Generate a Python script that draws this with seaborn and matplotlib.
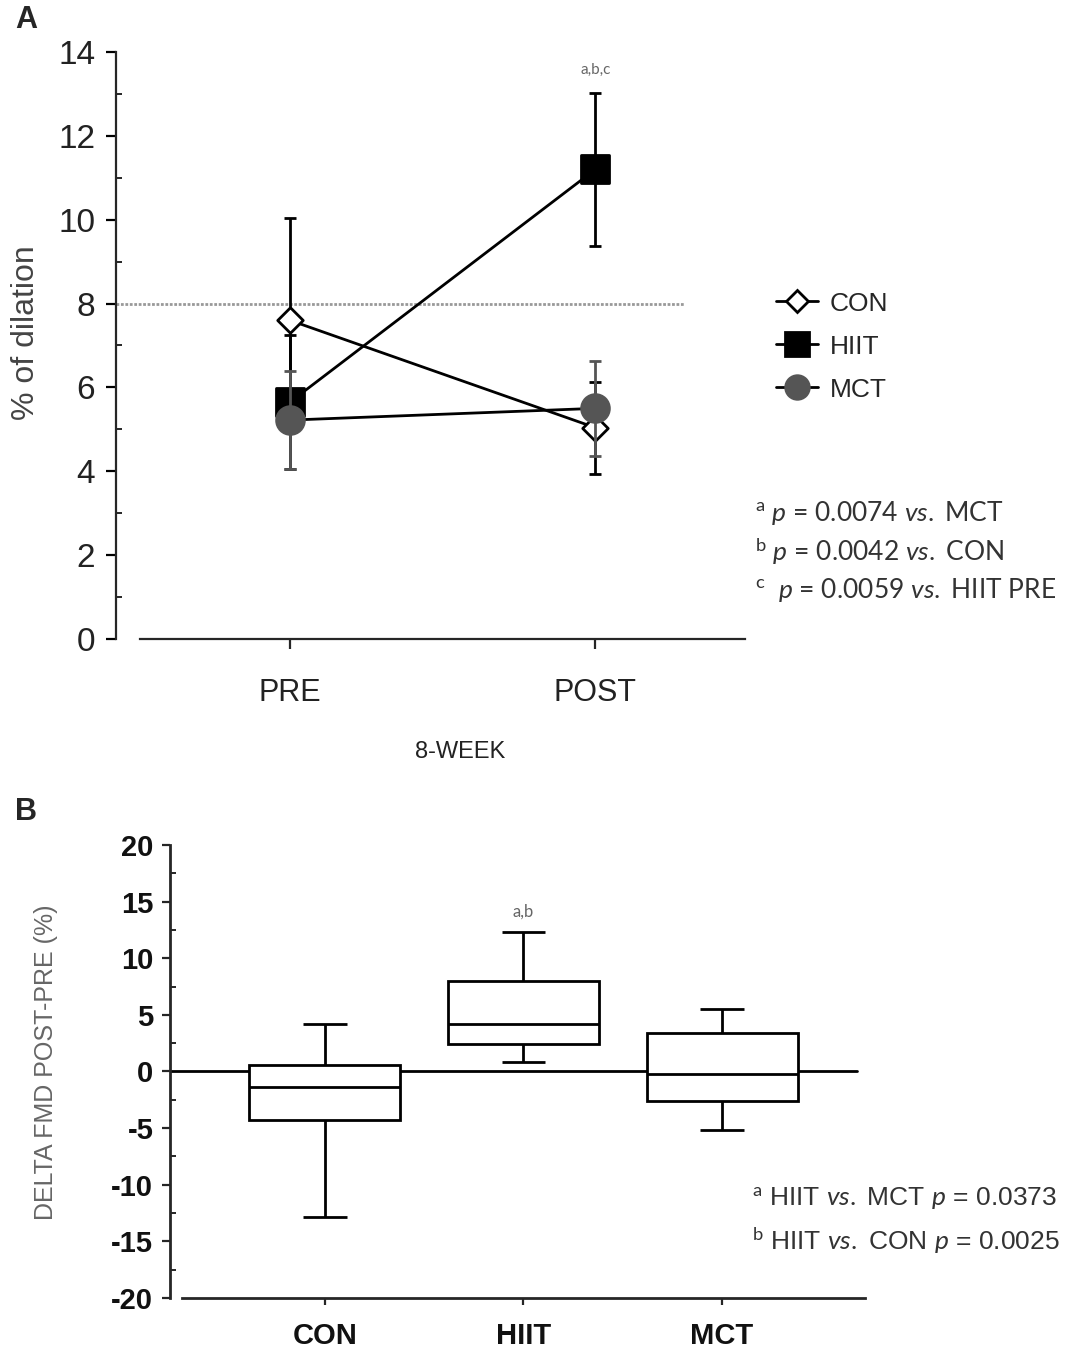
import numpy as np
import pandas as pd
import matplotlib
matplotlib.use("Agg")
import matplotlib.pyplot as plt
from matplotlib.lines import Line2D
from matplotlib.ticker import MultipleLocator
import seaborn as sns

# ---------------- data ----------------
times = ["PRE", "POST"]
groups = ["CON", "HIIT", "MCT"]

con_mean = [7.6, 5.04]
con_sd = [2.43, 1.1]
hiit_mean = [5.65, 11.2]
hiit_sd = [1.6, 1.82]
mct_mean = [5.22, 5.5]
mct_sd = [1.17, 1.14]

# panel B: min, q1, median, q3, max of delta FMD
con_delta = [-12.84, -4.28, -1.4, 0.6, 4.15]
hiit_delta = [0.83, 2.43, 4.19, 8.02, 12.27]
mct_delta = [-5.14, -2.59, -0.22, 3.39, 5.53]

sns.set_style("ticks")
plt.rcParams["font.family"] = ["Liberation Sans", "DejaVu Sans"]
plt.rcParams["axes.unicode_minus"] = False
plt.rcParams["mathtext.fontset"] = "custom"
plt.rcParams["mathtext.rm"] = "Lato"
plt.rcParams["mathtext.it"] = "Lato:italic"

fig = plt.figure(figsize=(10.9, 13.58), dpi=100)

# ================= panel A =================
ax1 = fig.add_axes([0.1064, 0.5295, 0.577, 0.4322])
xpos = [0, 1]
means = {"CON": con_mean, "HIIT": hiit_mean, "MCT": mct_mean}
sds = {"CON": con_sd, "HIIT": hiit_sd, "MCT": mct_sd}
face = {"CON": "white", "HIIT": "black", "MCT": "#555555"}
edge = {"CON": "black", "HIIT": "black", "MCT": "#555555"}
ecol = {"CON": "black", "HIIT": "black", "MCT": "#555555"}
mk = {"CON": "D", "HIIT": "s", "MCT": "o"}
msize = {"CON": 13, "HIIT": 20, "MCT": 20}

rows = []
for g in groups:
    for i, t in enumerate(times):
        rows.append({"group": g, "time": t, "x": xpos[i], "mean": means[g][i], "sd": sds[g][i]})
dfa = pd.DataFrame(rows)

ax1.axhline(8, xmin=0, xmax=(1.29 + 0.57) / (1.49 + 0.57), color="#999999",
            lw=2, ls=(0, (1, 0.6)), zorder=1)

sns.lineplot(data=dfa, x="x", y="mean", units="group", estimator=None,
             color="black", lw=2, legend=False, ax=ax1, zorder=2)

z = 3
for g in groups:
    d = dfa[dfa["group"] == g]
    ax1.errorbar(d["x"], d["mean"], yerr=d["sd"], fmt="none", ecolor=ecol[g],
                 elinewidth=2, capsize=4, capthick=2, zorder=z)
    sns.scatterplot(data=d, x="x", y="mean", marker=mk[g], s=msize[g] ** 2,
                    color=face[g], edgecolor=edge[g], linewidth=2,
                    legend=False, ax=ax1, zorder=z + 1, clip_on=False)
    z += 2

ax1.set_xlim(-0.57, 1.49)
ax1.set_ylim(0, 14)
ax1.set_xticks(xpos)
ax1.set_xticklabels(times)
ax1.yaxis.set_major_locator(MultipleLocator(2))
ax1.yaxis.set_minor_locator(MultipleLocator(1))
ax1.spines["top"].set_visible(False)
ax1.spines["right"].set_visible(False)
ax1.spines["bottom"].set_bounds(-0.49, 1.49)
for s in ["left", "bottom"]:
    ax1.spines[s].set_linewidth(1.6)
ax1.tick_params(axis="y", which="major", length=7, width=1.6, labelsize=24,
                pad=8, colors="black", labelcolor="#222222")
ax1.tick_params(axis="y", which="minor", length=4, width=1.4, direction="in")
ax1.tick_params(axis="x", which="major", length=7, width=1.6, labelsize=22,
                pad=21, labelcolor="#222222")
ax1.set_xlabel("")
ax1.set_ylabel("% of dilation", fontsize=23, color="#444444")
ax1.yaxis.set_label_coords(-0.12, 0.522)

fig.text(460 / 1090, 1 - 752 / 1358, "8-WEEK", fontsize=17, color="#222222",
         ha="center", va="center")
ax1.text(1, 13.57, "a,b,c", fontsize=11, color="#666666", ha="center",
         va="center", family="Lato")

handles = [Line2D([], [], color="black", lw=2, marker=mk[g], markersize=msize[g] * 0.85,
                  markerfacecolor=face[g], markeredgecolor=edge[g], markeredgewidth=2)
           for g in groups]
ax1.legend(handles, groups, loc="upper left", frameon=False, fontsize=19,
           bbox_to_anchor=(765 / 1090, 1 - 281 / 1358), bbox_transform=fig.transFigure,
           handlelength=1.6, handletextpad=0.45, labelspacing=0.72, borderaxespad=0)

foot_a = [r"$^{\mathrm{a}}$ $\mathit{p}$ = 0.0074 $\mathit{vs.}$ MCT",
          r"$^{\mathrm{b}}$ $\mathit{p}$ = 0.0042 $\mathit{vs.}$ CON",
          r"$^{\mathrm{c}}$  $\mathit{p}$ = 0.0059 $\mathit{vs.}$ HIIT PRE"]
for i, s in enumerate(foot_a):
    fig.text(755 / 1090, 1 - (513 + 38.5 * i) / 1358, s, fontsize=19,
             color="#333333", ha="left", va="center", family="Lato")

fig.text(15 / 1090, 1 - 20 / 1358, "A", fontsize=22, weight="bold", ha="left", va="center")

# ================= panel B =================
ax2 = fig.add_axes([0.156, 0.0442, 0.6376, 0.3336])
deltas = {"CON": con_delta, "HIIT": hiit_delta, "MCT": mct_delta}
dfb = pd.DataFrame({
    "group": [g for g in groups for _ in deltas[g]],
    "delta": [v for g in groups for v in deltas[g]],
})
ax2.axhline(0, xmin=0, xmax=(2.68 + 0.78) / (2.72 + 0.78), color="black",
            lw=2, zorder=1)
sns.boxplot(data=dfb, x="group", y="delta", order=groups, color="white",
            linecolor="black", linewidth=2, width=0.76, whis=(0, 100),
            showfliers=False, showcaps=False, ax=ax2, zorder=2)

# narrow whisker caps, as in the original
for i, g in enumerate(groups):
    ax2.hlines([min(deltas[g]), max(deltas[g])], i - 0.11, i + 0.11,
               color="black", lw=2, zorder=3)

ax2.set_xlim(-0.78, 2.72)
ax2.set_ylim(-20, 20)
ax2.yaxis.set_major_locator(MultipleLocator(5))
ax2.yaxis.set_minor_locator(MultipleLocator(2.5))
ax2.spines["top"].set_visible(False)
ax2.spines["right"].set_visible(False)
ax2.spines["bottom"].set_bounds(-0.72, 2.72)
for s in ["left", "bottom"]:
    ax2.spines[s].set_linewidth(2)
ax2.tick_params(axis="y", which="major", length=6, width=1.6, pad=6)
ax2.tick_params(axis="y", which="minor", length=4, width=1.4, direction="in")
ax2.tick_params(axis="x", which="major", length=5, width=1.6, pad=12)
for lab in ax2.get_yticklabels() + ax2.get_xticklabels():
    lab.set_weight("bold")
    lab.set_fontsize(21)
    lab.set_color("#111111")
ax2.set_xlabel("")
ax2.set_ylabel("DELTA FMD POST-PRE (%)", fontsize=18, color="#666666")
ax2.yaxis.set_label_coords(-0.161, 0.521)

ax2.text(1, 14.07, "a,b", fontsize=12, color="#666666", ha="center", va="center",
         family="Lato")
foot_b = [r"$^{\mathrm{a}}$ HIIT $\mathit{vs.}$ MCT $\mathit{p}$ = 0.0373",
          r"$^{\mathrm{b}}$ HIIT $\mathit{vs.}$ CON $\mathit{p}$ = 0.0025"]
for i, s in enumerate(foot_b):
    fig.text(752 / 1090, 1 - (1199 + 41 * i) / 1358, s, fontsize=19,
             color="#333333", ha="left", va="center", family="Liberation Sans")

fig.text(15 / 1090, 1 - 812 / 1358, "B", fontsize=22, weight="bold", ha="left", va="center")

fig.savefig("out.png", dpi=100)
